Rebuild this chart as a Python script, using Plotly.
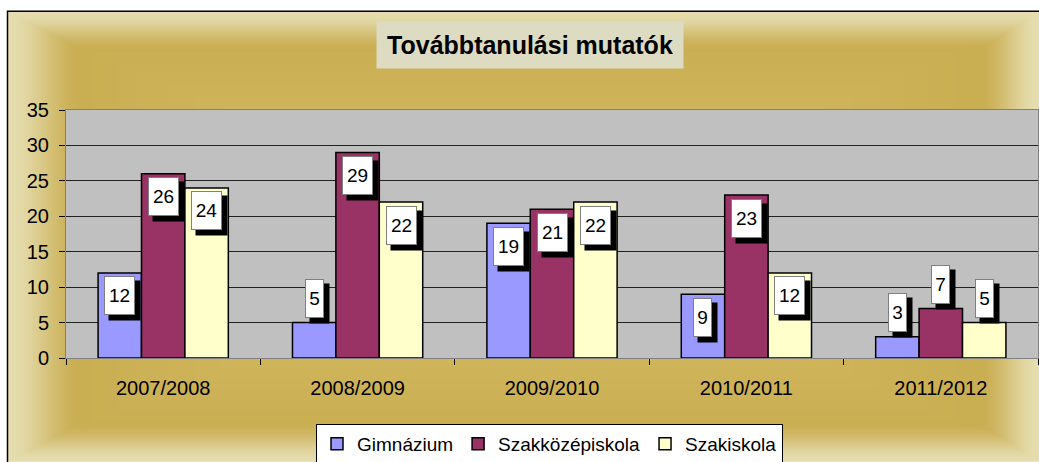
import base64
import struct
import zlib
import numpy as np
import plotly.graph_objects as go

# adatok
evek = ['2007/2008', '2008/2009', '2009/2010', '2010/2011', '2011/2012']
gimnazium = [12, 5, 19, 9, 3]
szakkozep = [26, 29, 21, 23, 7]
szakiskola = [24, 22, 22, 12, 5]
y_ticks = [0, 5, 10, 15, 20, 25, 30, 35]

sorozatok = [
    ('Gimnázium', gimnazium, '#9999FF'),
    ('Szakközépiskola', szakkozep, '#993366'),
    ('Szakiskola', szakiskola, '#FFFFCC'),
]

W, H = 1039, 462
# plot area pixelben
PL, PR, PT, PB = 66, 1038, 109.5, 358
BARGAP = 0.33
FONT = 'Arial, Liberation Sans'


def png_uri(arr):
    h, w, _ = arr.shape
    raw = b''.join(b'\x00' + arr[i].tobytes() for i in range(h))

    def chunk(tag, data):
        c = struct.pack('>I', len(data)) + tag + data
        return c + struct.pack('>I', zlib.crc32(tag + data) & 0xffffffff)
    png = (b'\x89PNG\r\n\x1a\n'
           + chunk(b'IHDR', struct.pack('>IIBBBBB', w, h, 8, 2, 0, 0, 0))
           + chunk(b'IDAT', zlib.compress(raw, 9))
           + chunk(b'IEND', b''))
    return 'data:image/png;base64,' + base64.b64encode(png).decode()


def hatter(w, h):
    # arany "keret" szinatmenet
    yy, xx = np.mgrid[0:h, 0:w].astype(float)
    light = np.array([230, 222, 176], float)
    gold = np.array([202, 174, 82], float)
    mid = np.array([220, 197, 112], float)
    e = np.minimum.reduce([xx / 75, (w - xx) / 60, yy / 40, (h - yy) / 40])
    e = np.clip(e, 0, 1)
    e = e * e * (3 - 2 * e)
    inner = np.minimum.reduce([(xx - 60) / 260, (w - 60 - xx) / 260, (yy - 30) / 110, (h - 30 - yy) / 110])
    inner = np.clip(inner, 0, 1)
    col = light[None, None, :] * (1 - e[..., None]) + gold[None, None, :] * e[..., None]
    col = col * (1 - 0.45 * inner[..., None]) + mid[None, None, :] * 0.45 * inner[..., None]
    return np.clip(col, 0, 255).astype(np.uint8)


def px_x(px):
    return (px - PL) / (PR - PL)


def px_y(py):
    return (PB - py) / (PB - PT)


fig = go.Figure()
for nev, ertekek, szin in sorozatok:
    fig.add_trace(go.Bar(x=evek, y=ertekek, name=nev, marker_color=szin,
                         marker_line=dict(color='black', width=1.5)))

# adatcimkek feher dobozban, fekete arnyekkal
annotations = []
off = (1 - BARGAP) / 3
for si, (nev, ertekek, szin) in enumerate(sorozatok):
    for ci, v in enumerate(ertekek):
        xpos = ci + (si - 1) * off
        ys = -23 if v >= 8 else 24
        bw = 29 if v >= 10 else 17
        annotations.append(dict(x=xpos, y=v, xref='x', yref='y', text='', showarrow=False,
                                width=bw, height=37, bgcolor='black', borderpad=1,
                                xshift=5, yshift=ys - 5, yanchor='middle'))
        annotations.append(dict(x=xpos, y=v, xref='x', yref='y', text=str(v), showarrow=False,
                                width=bw, height=37, bgcolor='white', bordercolor='#808080',
                                borderwidth=1, borderpad=0, yshift=ys, yanchor='middle',
                                font=dict(family=FONT, size=19, color='black')))

annotations.append(dict(x=px_x(530), y=px_y(44), xref='paper', yref='paper',
                        xanchor='center', yanchor='middle',
                        text='<b>Továbbtanulási mutatók</b>', showarrow=False,
                        width=304, height=44, bgcolor='#DEDBC3', borderpad=1,
                        font=dict(family=FONT, size=25, color='black')))

fig.update_layout(
    width=W, height=H,
    margin=dict(l=PL, r=W - PR, t=PT, b=H - PB, autoexpand=False),
    paper_bgcolor='white',
    plot_bgcolor='#C0C0C0',
    barmode='group', bargap=BARGAP, bargroupgap=0,
    font=dict(family=FONT, size=19, color='black'),
    annotations=annotations,
    legend=dict(orientation='h', x=px_x(549.5), xanchor='center', y=px_y(424), yanchor='top',
                bgcolor='white', bordercolor='black', borderwidth=1,
                font=dict(size=19), traceorder='normal', itemwidth=30),
    images=[dict(source=png_uri(hatter(W - 7, H - 10)), xref='paper', yref='paper',
                 x=px_x(7), y=px_y(10), sizex=(W - 7) / (PR - PL), sizey=(H - 10) / (PB - PT),
                 xanchor='left', yanchor='top', sizing='stretch', layer='below')],
    shapes=[
        dict(type='rect', xref='paper', yref='paper', x0=0, x1=1, y0=0, y1=1,
             fillcolor='#C0C0C0', line=dict(width=0), layer='below'),
        dict(type='rect', xref='paper', yref='paper', x0=px_x(7.5), x1=px_x(W + 6),
             y0=px_y(H + 6), y1=px_y(10.5), line=dict(color='black', width=1.5),
             fillcolor='rgba(0,0,0,0)', layer='below'),
    ],
    showlegend=True,
)

fig.update_xaxes(type='category', tickson='boundaries', ticks='outside', ticklen=6,
                 tickcolor='black', showline=True, linecolor='#808080', mirror=True,
                 showgrid=False, ticklabelstandoff=12, tickfont=dict(size=20))
fig.update_yaxes(range=[0, 35], tickvals=y_ticks, ticks='outside', ticklen=6,
                 tickcolor='black', showgrid=True, gridcolor='#222222', gridwidth=1,
                 showline=True, linecolor='#808080', mirror=True, zeroline=False,
                 ticklabelstandoff=6, tickfont=dict(size=20))

# body margo es gorditosav nelkul
fig.write_html("out.html", config={'displayModeBar': False},
               post_script="document.body.style.margin='0';document.body.style.overflow='hidden';")
